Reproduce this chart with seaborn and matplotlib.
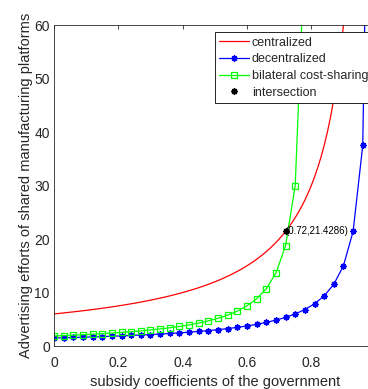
import numpy as np
import seaborn as sns
import matplotlib.pyplot as plt

# values
x_cent = np.round(np.arange(0, 0.915, 0.01), 2)
y_cent = [6.0, 6.061, 6.122, 6.186, 6.25, 6.316, 6.383, 6.452, 6.522, 6.593,
          6.667, 6.742, 6.818, 6.897, 6.977, 7.059, 7.143, 7.229, 7.317, 7.407,
          7.5, 7.595, 7.692, 7.792, 7.895, 8.0, 8.108, 8.219, 8.333, 8.451,
          8.571, 8.696, 8.824, 8.955, 9.091, 9.231, 9.375, 9.524, 9.677, 9.836,
          10.0, 10.169, 10.345, 10.526, 10.714, 10.909, 11.111, 11.321, 11.538, 11.765,
          12.0, 12.245, 12.5, 12.766, 13.043, 13.333, 13.636, 13.953, 14.286, 14.634,
          15.0, 15.385, 15.789, 16.216, 16.667, 17.143, 17.647, 18.182, 18.75, 19.355,
          20.0, 20.69, 21.429, 22.222, 23.077, 24.0, 25.0, 26.087, 27.273, 28.571,
          30.0, 31.579, 33.333, 35.294, 37.5, 40.0, 42.857, 46.154, 50.0, 54.545,
          60.0, 66.667]

x_dec = np.round(np.arange(0, 1.0, 0.03), 2)
y_dec = [1.5, 1.546, 1.596, 1.648, 1.705, 1.765, 1.829, 1.899, 1.974, 2.055,
         2.143, 2.239, 2.344, 2.459, 2.586, 2.727, 2.885, 3.061, 3.261, 3.488,
         3.75, 4.054, 4.412, 4.839, 5.357, 6.0, 6.818, 7.895, 9.375, 11.538,
         15.0, 21.429, 37.5, 150.0]

x_bil = np.round(np.arange(0, 0.79, 0.03), 2)
y_bil = [1.875, 1.948, 2.027, 2.113, 2.206, 2.308, 2.419, 2.542, 2.679, 2.830,
         3.0, 3.191, 3.409, 3.659, 3.947, 4.286, 4.688, 5.172, 5.769, 6.522,
         7.5, 8.824, 10.714, 13.636, 18.75, 30.0, 75.0]

x_int = [0.72]
y_int = [21.4286]

sns.set_style('white')
plt.rcParams['font.family'] = ['Liberation Sans', 'DejaVu Sans']

fig = plt.figure(figsize=(3.68, 3.89), dpi=100)
ax = fig.add_axes([0.1467, 0.1105, 0.874, 0.825])

ast = (8, 2, 0)
sns.lineplot(x=x_cent, y=y_cent, color='#FF0000', lw=0.9, label='centralized', ax=ax)
sns.lineplot(x=x_dec, y=y_dec, color='#0000FF', lw=0.9, marker=ast, markersize=4.5,
             markeredgecolor='#0000FF', markeredgewidth=1.0, label='decentralized', ax=ax)
sns.lineplot(x=x_bil, y=y_bil, color='#00FF00', lw=0.9, marker='s', markersize=4.8,
             markerfacecolor='none', markeredgecolor='#00FF00', markeredgewidth=0.9,
             label='bilateral cost-sharing', ax=ax)
sns.lineplot(x=x_int, y=y_int, color='k', linestyle='', marker=ast, markersize=4.5,
             markeredgecolor='k', markeredgewidth=1.1, label='intersection', ax=ax)

ax.text(x_int[0], y_int[0], '(%.2f,%.4f)' % (x_int[0], y_int[0]), fontsize=7,
        ha='left', va='center', color='k')

ax.set_xlim(0, 1)
ax.set_ylim(0, 60)
ax.set_xticks([0, 0.2, 0.4, 0.6, 0.8])
ax.set_xticklabels(['0', '0.2', '0.4', '0.6', '0.8'])
ax.set_yticks([0, 10, 20, 30, 40, 50, 60])
ax.tick_params(direction='in', length=3, width=0.6, top=True, right=True,
               labelsize=10, colors='#262626', pad=3)
ax.tick_params(axis='x', pad=7)
for s in ax.spines.values():
    s.set_color('#262626')
    s.set_linewidth(0.6)

ax.set_xlabel('subsidy coefficients of the government', fontsize=10.5, color='#262626', labelpad=4)
ax.set_ylabel('Advertising efforts of shared manufacturing platforms', fontsize=10.5,
              color='#262626', labelpad=1)

leg = ax.legend(loc='upper left', bbox_to_anchor=(0.5, 0.978), borderaxespad=0,
                fontsize=9, frameon=True, fancybox=False, framealpha=1,
                edgecolor='k', handlelength=2.4, labelspacing=0.38,
                handletextpad=0.2, borderpad=0.35)
leg.get_frame().set_linewidth(0.6)

fig.savefig('out.png', dpi=100)
